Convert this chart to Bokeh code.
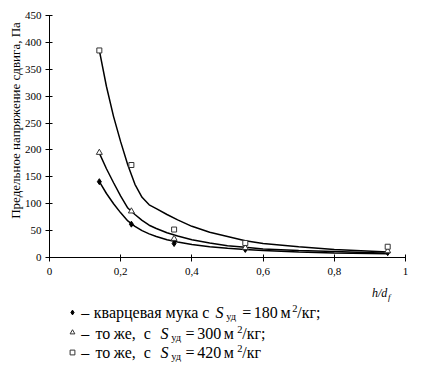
from math import pi
from bokeh.plotting import figure
from bokeh.models import Label, FixedTicker, Legend, LegendItem, Range1d
from bokeh.embed import file_html
from bokeh.resources import INLINE

# ---- data ----
x_points = [0.14, 0.23, 0.35, 0.55, 0.95]
y_s180 = [141, 62, 26, 15, 9]
y_s300 = [195, 86, 35, 18, 12]
y_s420 = [385, 172, 52, 27, 20]

curve_x = [0.14, 0.16, 0.18, 0.20, 0.22, 0.24, 0.26, 0.28, 0.30, 0.33,
           0.36, 0.40, 0.45, 0.50, 0.55, 0.60, 0.70, 0.80, 0.95]
curve_s180 = [141, 119, 100, 83, 68, 58, 50, 44, 39, 33,
              29, 24, 20, 17, 15, 13, 10, 8.5, 7]
curve_s300 = [194, 165, 139, 114, 92, 80, 69, 60, 54, 46,
              40, 33, 27, 22, 19, 16, 13, 11, 8]
curve_s420 = [385, 318, 262, 215, 172, 136, 112, 98, 91, 80,
              70, 58, 47, 39, 31, 26, 20, 15, 10]

x_ticks = [0, 0.2, 0.4, 0.6, 0.8, 1.0]
x_tick_labels = ["0", "0,2", "0,4", "0,6", "0,8", "1"]
y_ticks = [0, 50, 100, 150, 200, 250, 300, 350, 400, 450]

y_title = "Предельное напряжение сдвига, Па"
legend_leads = [["–", "кварцевая", "мука", "с"],
                ["–", "то", "же,", "с"],
                ["–", "то", "же,", "с"]]
legend_values = ["180", "300", "420"]
legend_ends = ["/кг;", "/кг;", "/кг"]

FONT = "Times New Roman"
LEG_SIZE = "16px"
SMALL_SIZE = "10.5px"

# ---- layout (pixels) ----
W, H = 417, 362
AX_LEFT, AX_RIGHT = 49, 405      # pixel x of x=0 and x=1
AX_TOP, AX_BOTTOM = 15, 257      # pixel y of y=450 and y=0
XMAX, YMAX = 1.0, 450.0

def dx(px):
    return (px - AX_LEFT) * XMAX / (AX_RIGHT - AX_LEFT)

def dy(py):
    return (AX_BOTTOM - py) * YMAX / (AX_BOTTOM - AX_TOP)

p = figure(width=W, height=H,
           min_border_left=0, min_border_right=0,
           min_border_top=0, min_border_bottom=0,
           x_range=Range1d(dx(0), dx(W)), y_range=Range1d(dy(H), dy(0)),
           output_backend="svg", toolbar_location=None)
p.outline_line_color = None
p.xgrid.visible = False
p.ygrid.visible = False
p.background_fill_color = "white"
p.border_fill_color = "white"

for ax in (p.xaxis, p.yaxis):
    ax.fixed_location = 0
    ax.axis_line_color = "black"
    ax.major_tick_line_color = "black"
    ax.minor_tick_line_color = None
    ax.major_label_text_font = FONT
    ax.major_label_text_font_size = "11px"
    ax.major_label_text_color = "black"
    ax.major_tick_in = 3
    ax.major_tick_out = 4

p.xaxis.bounds = (0, XMAX)
p.yaxis.bounds = (0, YMAX)
p.xaxis.ticker = FixedTicker(ticks=x_ticks)
p.xaxis.major_label_overrides = {t: l for t, l in zip(x_ticks, x_tick_labels)}
p.xaxis.major_label_standoff = 6
p.yaxis.ticker = FixedTicker(ticks=y_ticks)
p.yaxis.major_label_standoff = 4

# curves
for cy in (curve_s180, curve_s300, curve_s420):
    p.line(curve_x, cy, line_color="black", line_width=1.5)

# markers
r1 = p.scatter(x_points, y_s180, marker="diamond", size=6,
               fill_color="black", line_color="black", line_width=1)
r2 = p.scatter(x_points, y_s300, marker="triangle", size=6,
               fill_color="white", line_color="#333333", line_width=1)
r3 = p.scatter(x_points, y_s420, marker="square", size=5,
               fill_color="white", line_color="#333333", line_width=1)

# y-axis title
p.add_layout(Label(x=dx(15), y=dy(120), text=y_title, angle=pi / 2,
                   text_align="center", text_baseline="middle",
                   text_font=FONT, text_font_size="13px", text_color="black"))

# x-axis title h/d_f
p.add_layout(Label(x=dx(371.5), y=dy(292.5), text="h/d", text_align="left",
                   text_baseline="middle", text_font=FONT, text_font_style="italic",
                   text_font_size="12px", text_color="black"))
p.add_layout(Label(x=dx(387.5), y=dy(296.5), text="f", text_align="left",
                   text_baseline="middle", text_font=FONT, text_font_style="italic",
                   text_font_size="9px", text_color="black"))

# legend markers (rows centred at y = 311.7, 331.7, 351.7 px)
legend = Legend(items=[LegendItem(label=" ", renderers=[r]) for r in (r1, r2, r3)],
                location=(66, H - 357.7), orientation="vertical",
                glyph_width=12, glyph_height=12, label_width=0, label_height=12,
                label_standoff=0, spacing=8, padding=0, margin=0,
                label_text_font_size="1px",
                border_line_color=None, background_fill_alpha=0)
p.add_layout(legend, "center")

# legend texts: pixel positions of each piece, per row
row_y = [311.7, 333.0, 351.7]
lead_x = [[80.7, 93.3, 165.0, 201.7],
          [80.7, 95.0, 113.3, 143.3],
          [80.7, 95.0, 113.3, 143.3]]
tail_x = [dict(s=215.0, sub=225.7, eq=241.7, num=253.3, m=280.0, sup=291.7, end=296.7),
          dict(s=160.0, sub=170.7, eq=185.0, num=196.7, m=223.3, sup=236.7, end=241.7),
          dict(s=160.0, sub=170.7, eq=185.0, num=196.7, m=223.3, sup=236.7, end=241.7)]

common = dict(text_align="left", text_baseline="middle", text_font=FONT,
              text_color="black")
for yy, words, xs, t, val, end in zip(row_y, legend_leads, lead_x, tail_x,
                                       legend_values, legend_ends):
    for w, xw in zip(words, xs):
        p.add_layout(Label(x=dx(xw), y=dy(yy), text=w, text_font_size=LEG_SIZE, **common))
    p.add_layout(Label(x=dx(t["s"]), y=dy(yy), text="S", text_font_size=LEG_SIZE,
                       text_font_style="italic", **common))
    p.add_layout(Label(x=dx(t["sub"]), y=dy(yy + 4), text="уд", text_font_size=SMALL_SIZE, **common))
    p.add_layout(Label(x=dx(t["eq"]), y=dy(yy), text="=", text_font_size=LEG_SIZE, **common))
    p.add_layout(Label(x=dx(t["num"]), y=dy(yy), text=val, text_font_size=LEG_SIZE, **common))
    p.add_layout(Label(x=dx(t["m"]), y=dy(yy), text="м", text_font_size=LEG_SIZE, **common))
    p.add_layout(Label(x=dx(t["sup"]), y=dy(yy - 4), text="2", text_font_size=SMALL_SIZE, **common))
    p.add_layout(Label(x=dx(t["end"]), y=dy(yy), text=end, text_font_size=LEG_SIZE, **common))

open("out.html", "w").write(file_html(p, INLINE))
